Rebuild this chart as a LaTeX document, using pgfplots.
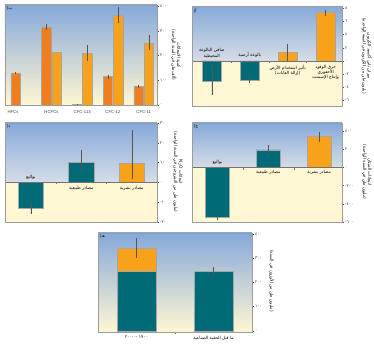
\documentclass[border=0pt]{standalone}
\usepackage{pgfplots}
\pgfplotsset{compat=1.18}
\usepackage{fontspec}
\setmainfont{Liberation Sans}
\newfontfamily\arabicfont[Script=Arabic]{DejaVu Sans}
\TeXXeTstate=1
\definecolor{barteal}{HTML}{006B76}
\definecolor{orlight}{HTML}{F8A21C}
\definecolor{ordark}{HTML}{F07E1F}
\definecolor{bgblue}{HTML}{86A9DA}
\definecolor{bgmid}{HTML}{D6DDE6}
\definecolor{bgyel}{HTML}{FFF7D3}
\definecolor{framec}{HTML}{9C9C9C}
\definecolor{errc}{HTML}{555555}
\newcommand\ar[1]{{\arabicfont\beginR #1\endR}}
\newcommand\fs{\fontsize{4.3}{5.2}\selectfont}
\newcommand\lfs{\fontsize{4.3}{5}\selectfont}
\pgfplotsset{
 panel/.style={
  scale only axis, clip=false, axis on top, anchor=south west,
  xtick=\empty,
  ytick pos=right, yticklabel pos=right,
  tick align=outside,
  major tick length=2pt, minor tick length=1.2pt,
  axis line style={draw=framec, line width=0.5pt},
  every tick/.style={draw=black!70, line width=0.35pt},
  yticklabel style={font=\arabicfont\fontsize{4.2}{4.2}\selectfont, inner sep=1pt, text=black!80},
  minor y tick num=1,
 },
 bar/.style={ybar, bar width=#1, draw=black!35, line width=0.3pt},
 eb/.style={error bars/.cd, y dir=both, y explicit, error bar style={draw=errc, line width=0.5pt}, error mark=none},
}
\begin{document}
\begin{tikzpicture}
\path[use as bounding box] (0pt,0pt) rectangle (374pt,351pt);

% ---------- panel b (halocarbons)
\begin{axis}[panel, at={(5pt,246pt)}, width=152pt, height=100pt,
  xmin=-0.51, xmax=4.43, ymin=0, ymax=405,
  ytick={0,100,200,300,400}, yticklabels={٠,١٠٠,٢٠٠,٣٠٠,٤٠٠},
  axis background/.style={top color=bgblue, middle color=bgmid, bottom color=bgyel}]
\addplot[bar=0.31, fill=ordark, eb] coordinates {(-0.165,130) +- (0,2) (0.835,316) +- (0,11) (1.835,4) +- (0,2) (2.835,115) +- (0,8) (3.835,75) +- (0,8)};
\addplot[bar=0.31, fill=orlight, eb] coordinates {(1.165,214) +- (0,0) (2.165,210) +- (0,31) (3.165,363) +- (0,32) (4.165,252) +- (0,30)};
\node[anchor=north, font=\lfs, text=black!75, yshift=-1.5pt] at (axis cs:-0.25,0) {HFCs};
\node[anchor=north, font=\lfs, text=black!75, yshift=-1.5pt] at (axis cs:1,0) {HCFCs};
\node[anchor=north, font=\lfs, text=black!75, yshift=-1.5pt] at (axis cs:2,0) {CFC-113};
\node[anchor=north, font=\lfs, text=black!75, yshift=-1.5pt] at (axis cs:3,0) {CFC-12};
\node[anchor=north, font=\lfs, text=black!75, yshift=-1.5pt] at (axis cs:4,0) {CFC-11};
\node[anchor=north west, font=\fs, inner sep=1.5pt] at (rel axis cs:0,1) {\arabicfont ب)};
\end{axis}

% ---------- panel a (CO2)
\begin{axis}[panel, at={(192pt,245pt)}, width=150pt, height=100pt,
  xmin=-0.52, xmax=3.43, ymin=-6.85, ymax=8.35,
  ytick={-6,-4,-2,0,2,4,6,8}, yticklabels={٦-,٤-,٢-,٠,٢,٤,٦,٨},
  axis background/.style={fill=bgyel}]
\fill[top color=bgblue, bottom color=bgmid] (axis cs:-0.52,0) rectangle (axis cs:3.43,8.35);
\addplot[bar=0.5, fill=barteal, eb] coordinates {(0,-3.1) += (0,2.5) -= (0,2.1) (1,-2.9) += (0,0.6) -= (0,0.5)};
\addplot[bar=0.5, fill=orlight, eb] coordinates {(2,1.3) +- (0,1.25) (3,7.4) += (0,0.35) -= (0,0.5)};
\draw[black!55, line width=0.6pt] (axis cs:-0.52,0) -- (axis cs:3.43,0);
\draw[black!55, line width=0.4pt] (axis cs:0.5,0) -- (axis cs:0.5,-0.3);
\draw[black!55, line width=0.4pt] (axis cs:1.5,0) -- (axis cs:1.5,-0.3);
\draw[black!55, line width=0.4pt] (axis cs:2.5,0) -- (axis cs:2.5,-0.3);
\node[anchor=south, font=\fs, align=center, inner sep=1pt] at (axis cs:0,0.3) {\ar{صافي البالوعة}\\\ar{المحيطية}};
\node[anchor=south, font=\fs, align=center, inner sep=1pt] at (axis cs:1,0.3) {\ar{بالوعة أرضية}};
\node[anchor=north, font=\fs, align=center, inner sep=1pt] at (axis cs:2,-0.4) {\ar{تأثير استخدام الأرض}\\\ar{(إزالة الغابات)}};
\node[anchor=north, font=\fs, align=center, inner sep=1pt] at (axis cs:3,-0.4) {\ar{حرق الوقود}\\\ar{الأحفوري}\\\ar{وإنتاج الإسمنت}};
\node[anchor=north west, font=\fs, inner sep=1.5pt] at (rel axis cs:0,1) {\arabicfont أ)};
\end{axis}

% ---------- panel d (N2O)
\begin{axis}[panel, at={(5pt,129pt)}, width=152pt, height=99pt,
  xmin=-0.51, xmax=2.5, ymin=-20, ymax=30,
  ytick={-20,-10,0,10,20,30}, yticklabels={٢٠-,١٠-,٠,١٠,٢٠,٣٠},
  axis background/.style={fill=bgyel}]
\fill[top color=bgblue, bottom color=bgmid] (axis cs:-0.51,0) rectangle (axis cs:2.5,30);
\addplot[bar=0.5, fill=barteal, eb] coordinates {(0,-13) +- (0,3) (1,10.3) += (0,6.1) -= (0,5)};
\addplot[bar=0.5, fill=orlight, eb] coordinates {(2,9.7) += (0,16.6) -= (0,8.2)};
\draw[black!55, line width=0.6pt] (axis cs:-0.51,0) -- (axis cs:2.5,0);
\draw[black!55, line width=0.4pt] (axis cs:0.5,0) -- (axis cs:0.5,-1);
\draw[black!55, line width=0.4pt] (axis cs:1.5,0) -- (axis cs:1.5,-1);
\node[anchor=south, font=\fs, inner sep=1pt] at (axis cs:0,0.8) {\ar{بواليع}};
\node[anchor=north, font=\fs, inner sep=1pt] at (axis cs:1,-1.2) {\ar{مصادر طبيعية}};
\node[anchor=north, font=\fs, inner sep=1pt] at (axis cs:2,-1.2) {\ar{مصادر بشرية}};
\node[anchor=north west, font=\fs, inner sep=1.5pt] at (rel axis cs:0,1) {\arabicfont د)};
\end{axis}

% ---------- panel c (CH4)
\begin{axis}[panel, at={(192pt,129pt)}, width=150pt, height=99pt,
  xmin=-0.5, xmax=2.45, ymin=-600, ymax=490,
  ytick={-600,-400,-200,0,200,400}, yticklabels={٦٠٠-,٤٠٠-,٢٠٠-,٠,٢٠٠,٤٠٠},
  axis background/.style={fill=bgyel}]
\fill[top color=bgblue, bottom color=bgmid] (axis cs:-0.5,0) rectangle (axis cs:2.45,490);
\addplot[bar=0.48, fill=barteal, eb] coordinates {(0,-549) +- (0,28) (1,194) += (0,51) -= (0,47)};
\addplot[bar=0.48, fill=orlight, eb] coordinates {(2,340) += (0,52) -= (0,54)};
\draw[black!55, line width=0.6pt] (axis cs:-0.5,0) -- (axis cs:2.45,0);
\draw[black!55, line width=0.4pt] (axis cs:0.5,0) -- (axis cs:0.5,-22);
\draw[black!55, line width=0.4pt] (axis cs:1.5,0) -- (axis cs:1.5,-22);
\node[anchor=south, font=\fs, inner sep=1pt] at (axis cs:0,15) {\ar{بواليع}};
\node[anchor=north, font=\fs, inner sep=1pt] at (axis cs:1,-20) {\ar{مصادر طبيعية}};
\node[anchor=north, font=\fs, inner sep=1pt] at (axis cs:2,-20) {\ar{مصادر بشرية}};
\node[anchor=north west, font=\fs, inner sep=1.5pt] at (rel axis cs:0,1) {\arabicfont ج)};
\end{axis}

% ---------- panel e (ozone)
\begin{axis}[panel, at={(98pt,19pt)}, width=154pt, height=99pt,
  xmin=-0.5, xmax=1.5, ymin=-5, ymax=405,
  ytick={0,100,200,300,400}, yticklabels={٠,١٠٠,٢٠٠,٣٠٠,٤٠٠},
  axis background/.style={top color=bgblue, middle color=bgmid, bottom color=bgyel}]
\addplot[bar=0.5, fill=orlight, eb] coordinates {(0,343) +- (0,42)};
\addplot[bar=0.5, fill=barteal, eb] coordinates {(0,246) +- (0,0) (1,246) += (0,18) -= (0,17)};
\draw[black!55, line width=0.4pt] (axis cs:0.5,-5) -- (axis cs:0.5,-13);
\node[anchor=north, font=\fs, inner sep=1pt, yshift=-3pt] at (axis cs:0,-5) {\arabicfont\hbox{٢٠٠٠}\hbox{ – }\hbox{١٩٠٠}};
\node[anchor=north, font=\fs, inner sep=1pt, yshift=-3pt] at (axis cs:1,-5) {\ar{ما قبل الحقبة الصناعية}};
\node[anchor=north west, font=\fs, inner sep=1.5pt] at (rel axis cs:0,1) {\arabicfont هـ)};
\end{axis}

% ---------- y labels
\node[rotate=-90, align=center, font=\fs] at (176pt,296pt) {\ar{كمية الانبعاثات}\\\ar{(ألف طن في السنة الواحدة)}};
\node[rotate=-90, align=center, font=\fs] at (367pt,295pt) {\ar{ميزان ثاني أكسيد الكربون}\\\ar{(بليون طن من الكربون في السنة الواحدة)}};
\node[rotate=-90, align=center, font=\fs] at (178pt,179pt) {\ar{انبعاثات \beginL N\textsubscript{2}O\endL}\\\ar{(مليون طن من النيتروجين في السنة الواحدة)}};
\node[rotate=-90, align=center, font=\fs] at (367pt,179pt) {\ar{انبعاثات الميثان}\\\ar{(مليون طن في السنة الواحدة)}};
\node[rotate=-90, align=center, font=\fs] at (272pt,70pt) {\ar{(مليون طن من الأوزون في السنة)}};
\end{tikzpicture}
\end{document}
